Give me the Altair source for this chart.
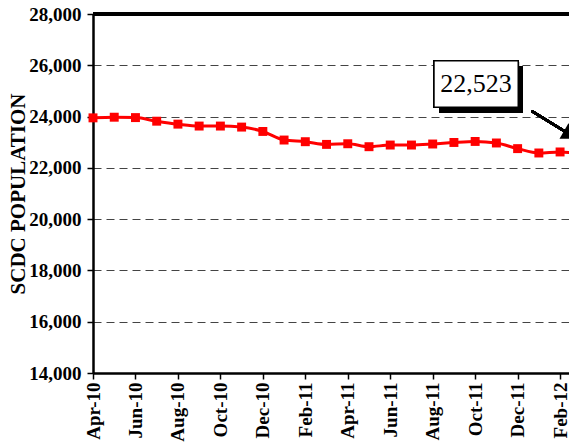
import altair as alt
import pandas as pd

months = ["Apr-10", "May-10", "Jun-10", "Jul-10", "Aug-10", "Sep-10", "Oct-10", "Nov-10",
          "Dec-10", "Jan-11", "Feb-11", "Mar-11", "Apr-11", "May-11", "Jun-11", "Jul-11",
          "Aug-11", "Sep-11", "Oct-11", "Nov-11", "Dec-11", "Jan-12", "Feb-12", "Mar-12"]
population = [23950, 23975, 23960, 23820, 23705, 23630, 23630, 23590,
              23420, 23085, 23020, 22915, 22940, 22825, 22890, 22890,
              22930, 22990, 23030, 22970, 22750, 22580, 22620, 22523]
x_tick_values = list(range(0, 24, 2))
y_tick_values = list(range(14000, 28001, 2000))
callout_text = ["22,523"]

df = pd.DataFrame({"idx": list(range(len(months))), "month": months, "pop": population})

label_expr = "[" + ",".join("'" + m + "'" for m in months) + "][datum.value]"
FONT = "Liberation Serif"

x_enc = alt.X(
    "idx:Q",
    scale=alt.Scale(domain=[0, 22.42], nice=False, zero=False),
    axis=alt.Axis(
        values=x_tick_values, labelExpr=label_expr, labelAngle=270, title=None, grid=False,
        domainColor="black", domainWidth=2.5, tickColor="black", tickWidth=1.5, tickSize=6,
        labelFont=FONT, labelFontWeight="bold", labelFontSize=19, labelColor="black",
        labelPadding=3, labelFlush=False, labelOverlap=False,
    ),
)
y_enc = alt.Y(
    "pop:Q",
    scale=alt.Scale(domain=[14000, 28000], nice=False, zero=False),
    axis=alt.Axis(
        values=y_tick_values, format=",d", grid=True, gridDash=[8, 5], gridColor="#444444",
        gridWidth=1, domainColor="black", domainWidth=2.5, tickColor="black", tickWidth=1.5,
        tickSize=6, labelFont=FONT, labelFontWeight="bold", labelFontSize=19,
        labelColor="black", labelPadding=6, labelOverlap=False, labelFlush=False,
        title="SCDC POPULATION", titleFont=FONT, titleFontSize=21, titleFontWeight="bold",
        titleColor="black", titleX=-75, titleY=179.5, titleAngle=270,
        titleBaseline="middle", titleAlign="center",
    ),
)

base = alt.Chart(df)
line = base.mark_line(color="#FF0000", strokeWidth=3, interpolate="monotone").encode(x=x_enc, y=y_enc)
points = base.mark_point(shape="square", filled=True, size=80, color="#FF0000", opacity=1).encode(
    x="idx:Q", y="pop:Q")

top_rule = alt.Chart(df).mark_rule(color="black", strokeWidth=2.5).encode(y=alt.datum(28000))

shadow = alt.Chart(df).mark_rect(color="black").encode(
    x=alt.datum(16.30), x2=alt.datum(20.25), y=alt.datum(25972), y2=alt.datum(24139))
box = alt.Chart(df).mark_rect(fill="white", stroke="black", strokeWidth=1.5).encode(
    x=alt.datum(16.06), x2=alt.datum(20.03), y=alt.datum(26179), y2=alt.datum(24362))
label = alt.Chart(pd.DataFrame({"t": callout_text})).mark_text(
    font=FONT, fontSize=26, color="black", baseline="middle", align="center").encode(
    x=alt.datum(18.04), y=alt.datum(25270), text="t:N")
arrow = alt.Chart(df).mark_rule(color="black", strokeWidth=2.5).encode(
    x=alt.datum(20.66), x2=alt.datum(22.23), y=alt.datum(24217), y2=alt.datum(23418))
head = alt.Chart(pd.DataFrame({"a": [0]})).mark_point(
    shape="triangle-right", filled=True, size=320, color="black", opacity=1, angle=30).encode(
    x=alt.datum(22.5), y=alt.datum(23290))

chart = alt.layer(line, points, top_rule, shadow, box, label, arrow, head).properties(
    width=476, height=359,
    autosize=alt.AutoSizeParams(type="none"),
    padding={"left": 85, "top": 6, "right": 0, "bottom": 75},
).configure_view(stroke=None).configure(background="white")

chart.save("out.html", embed_options={"renderer": "svg", "actions": False})
